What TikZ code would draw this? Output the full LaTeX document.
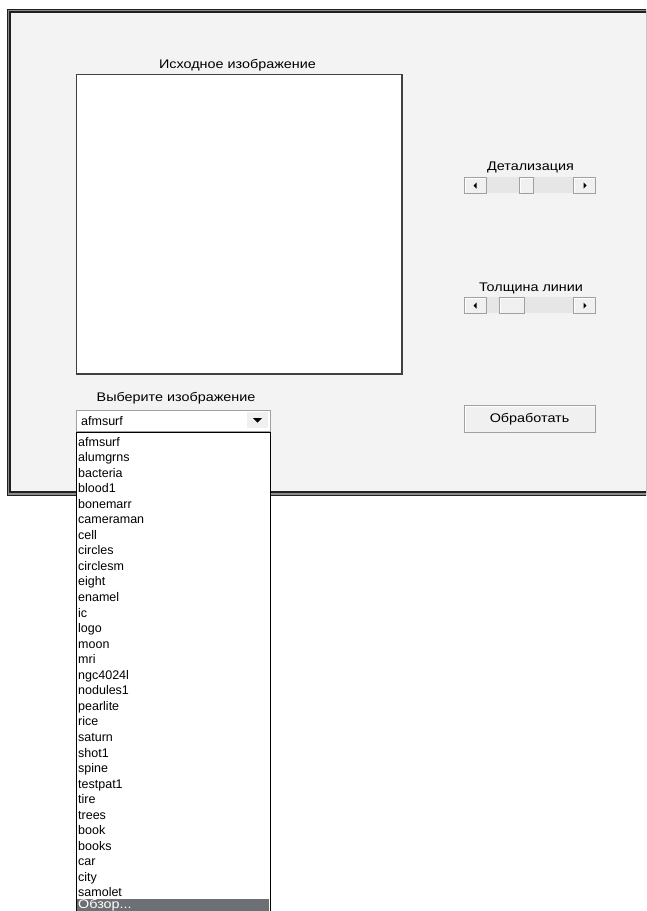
\documentclass[tikz,border=0pt]{standalone}
\usepackage{fontspec}
\setmainfont{Liberation Sans}
\newfontfamily\cyr[FakeStretch=1.15]{Liberation Sans}
\definecolor{winbg}{HTML}{F3F3F3}
\definecolor{framedark}{HTML}{202020}
\definecolor{framegray}{HTML}{8C8C8C}
\definecolor{track}{HTML}{E6E6E6}
\definecolor{btnface}{HTML}{F0F0F0}
\definecolor{btnshadow}{HTML}{A0A0A0}
\definecolor{hilite}{HTML}{6C6F73}
\tikzset{
  lbl/.style={font=\cyr\fontsize{12.5}{15}\selectfont, anchor=base, inner sep=0pt},
  item/.style={font=\fontsize{12.5}{15}\selectfont, anchor=base west, inner sep=0pt},
  raised/.style={fill=btnface, draw=btnshadow, line width=1pt, inner sep=0pt, anchor=north west,
    path picture={\draw[white, line width=2pt] (path picture bounding box.south west) |- (path picture bounding box.north east);}},
  trackbox/.style={fill=track, draw=none, inner sep=0pt, anchor=north west},
}
\begin{document}
\begin{tikzpicture}[x=1pt,y=-1pt]
\useasboundingbox (0,0) rectangle (646,911);
\clip (0,0) rectangle (646,911);
% window frame
\fill[white] (0,0) rectangle (646,911);
\fill[framedark] (7,9) rectangle (700,496);
\fill[framegray] (8.2,10.2) rectangle (700,494.6);
\fill[framedark] (9.2,11.2) rectangle (700,493.4);
\fill[winbg] (10.5,12.5) rectangle (700,491);
% image box
\node[lbl] (title) at (237.5,68) {Исходное изображение};
\node[draw=black!75, line width=1.6pt, fill=white, inner sep=0pt, minimum width=325.4pt, minimum height=299.4pt, anchor=north west] (img) at (75.8,73.8) {};
% slider 1
\node[lbl] (lab1) at (530.5,170) {Детализация};
\node[trackbox, minimum width=131pt, minimum height=16pt] (sl1) at (464,177) {};
\node[raised, minimum width=22pt, minimum height=16pt] (sl1l) at (464,177) {};
\node[raised, minimum width=22pt, minimum height=16pt] (sl1r) at (573,177) {};
\node[raised, minimum width=14pt, minimum height=16pt] (sl1t) at (519,177) {};
\fill[shift={(sl1l.center)}] (-2,0) -- (1,-3) -- (1,3) -- cycle;
\fill[shift={(sl1r.center)}] (2,0) -- (-1,-3) -- (-1,3) -- cycle;
% slider 2
\node[lbl] (lab2) at (531,291) {Толщина линии};
\node[trackbox, minimum width=131pt, minimum height=16pt] (sl2) at (464,297) {};
\node[raised, minimum width=22pt, minimum height=16pt] (sl2l) at (464,297) {};
\node[raised, minimum width=22pt, minimum height=16pt] (sl2r) at (573,297) {};
\node[raised, minimum width=25pt, minimum height=16pt] (sl2t) at (499,297) {};
\fill[shift={(sl2l.center)}] (-2,0) -- (1,-3) -- (1,3) -- cycle;
\fill[shift={(sl2r.center)}] (2,0) -- (-1,-3) -- (-1,3) -- cycle;
% button
\node[raised, minimum width=131pt, minimum height=27pt] (btn) at (464,405) {};
\node[lbl] (btntext) at (529.5,422) {Обработать};
% combo box
\node[lbl] (lab3) at (176,401) {Выберите изображение};
\node[fill=white, draw=btnshadow, line width=1pt, inner sep=0pt, minimum width=194pt, minimum height=21pt, anchor=north west] (combo) at (75.5,409.5) {};
\node[fill=btnface, draw=none, inner sep=0pt, minimum width=21pt, minimum height=16pt, anchor=north west] (dropbtn) at (246.5,412) {};
\fill (253,418) -- (262,418) -- (257.5,422.5) -- cycle;
\node[item] (sel) at (81,425) {afmsurf};
% list
\node[fill=white, draw=black, line width=1.2pt, inner sep=0pt, minimum width=193.5pt, minimum height=500pt, anchor=north west] (lst) at (76,432) {};
\fill[hilite] (76.6,899) rectangle (268.9,920);
\foreach \t [count=\i from 0] in {afmsurf,alumgrns,bacteria,blood1,bonemarr,cameraman,cell,circles,circlesm,eight,enamel,ic,logo,moon,mri,ngc4024l,nodules1,pearlite,rice,saturn,shot1,spine,testpat1,tire,trees,book,books,car,city,samolet}
  \node[item] (it\i) at (78,{446+15.55*\i}) {\t};
\node[item, font=\cyr\fontsize{12.5}{15}\selectfont, text=white] (obzor) at (78,908.2) {Обзор...};
\end{tikzpicture}
\end{document}
